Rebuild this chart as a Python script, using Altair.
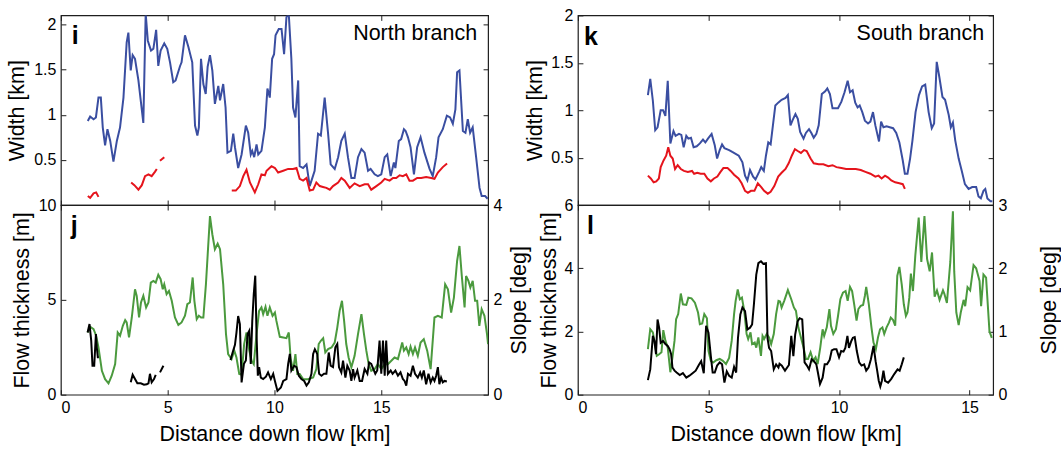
import altair as alt
import pandas as pd

# ---------------- data ----------------
# Panel i (North branch): width [km] vs distance [km]
i_blue_km = [1.26,1.37,1.53,1.64,1.76,1.87,1.96,2.07,2.18,2.31,
             2.46,2.62,2.77,2.93,3.08,3.16,3.27,3.36,3.47,3.63,
             3.86,3.97,4.07,4.22,4.33,4.46,4.56,4.67,4.84,4.98,
             5.11,5.26,5.37,5.58,5.65,5.81,5.97,6.15,6.28,6.39,
             6.46,6.56,6.67,6.78,6.87,6.98,7.09,7.21,7.37,7.45,
             7.60,7.71,7.80,7.96,8.07,8.15,8.30,8.46,8.66,8.77,
             8.89,8.96,9.05,9.16,9.24,9.39,9.55,9.67,9.78,9.89,
             9.98,10.05,10.20,10.33,10.45,10.56,10.67,10.79,10.87,10.98,
             11.11,11.18,11.34,11.50,11.65,11.88,12.04,12.17,12.35,12.51,
             12.63,12.82,12.98,13.13,13.29,13.44,13.60,13.75,13.91,14.07,
             14.22,14.38,14.50,14.69,14.84,15.0,15.16,15.28,15.44,15.59,
             15.66,15.82,15.93,16.06,16.14,16.25,16.37,16.53,16.68,16.84,
             17.02,17.26,17.41,17.57,17.68,17.88,18.07,18.22,18.35,18.47,
             18.55,18.66,18.82,18.94,19.05,19.16,19.28,19.44,19.60,19.70,
             19.86,19.98]
i_blue_w = [0.93,0.98,0.95,0.97,1.19,1.19,0.86,0.66,0.84,0.71,
            0.48,0.71,0.86,1.19,1.80,1.91,1.49,1.66,1.62,1.38,
            0.91,2.12,1.82,1.71,1.73,1.94,1.54,1.71,1.79,1.73,
            1.58,1.36,1.38,1.54,1.58,1.88,1.75,1.58,0.88,0.77,
            0.86,1.62,1.34,1.23,1.53,1.66,1.49,1.12,1.32,1.16,
            1.34,1.08,0.58,0.60,0.79,0.64,0.41,0.56,0.88,0.80,
            0.56,0.60,0.53,0.67,0.56,0.60,0.86,1.29,1.19,1.62,
            1.67,1.88,1.95,1.95,1.67,2.08,2.11,1.62,1.08,0.97,
            1.38,0.43,0.41,0.45,0.21,0.38,0.79,0.77,1.19,0.79,
            0.45,0.40,0.53,0.71,0.79,0.53,0.30,0.30,0.53,0.62,
            0.58,0.38,0.40,0.34,0.32,0.34,0.53,0.56,0.32,0.47,
            0.41,0.71,0.73,0.84,0.82,0.75,0.64,0.34,0.64,0.75,
            0.58,0.40,0.32,0.53,0.75,0.84,0.99,0.97,0.90,1.06,
            1.47,1.49,0.82,0.80,0.95,0.80,0.86,0.53,0.19,0.10,
            0.10,0.07]
i_red_km_1 = [1.26,1.37,1.53,1.65,1.76]
i_red_w_1 = [0.10,0.08,0.13,0.14,0.09]
i_red_km_2 = [3.29,3.44,3.63,3.79,3.94,4.10,4.25,4.41,4.49]
i_red_w_2 = [0.25,0.22,0.17,0.22,0.32,0.34,0.32,0.37,0.40]
i_red_km_3 = [4.64,4.84]
i_red_w_3 = [0.49,0.53]
i_red_km_4 = [8.0,8.19,8.38,8.54,8.69,8.85,9.08,9.24,9.39,9.55,
              9.63,9.86,10.02,10.17,10.41,10.64,10.87,11.03,11.18,11.34,
              11.50,11.65,11.81,11.96,12.12,12.27,12.43,12.59,12.74,12.98,
              13.13,13.29,13.52,13.75,13.99,14.22,14.38,14.53,14.77,15.0,
              15.16,15.39,15.55,15.70,15.86,16.01,16.17,16.32,16.48,16.68,
              16.87,17.10,17.34,17.49,17.65,17.88,18.08]
i_red_w_4 = [0.16,0.16,0.21,0.32,0.39,0.25,0.14,0.23,0.34,0.33,
             0.38,0.43,0.41,0.36,0.38,0.40,0.40,0.41,0.29,0.27,
             0.30,0.16,0.17,0.25,0.21,0.20,0.19,0.17,0.21,0.25,
             0.30,0.27,0.19,0.24,0.21,0.23,0.23,0.17,0.21,0.25,
             0.29,0.27,0.30,0.30,0.33,0.32,0.34,0.27,0.27,0.30,
             0.30,0.31,0.30,0.29,0.36,0.42,0.46]

# Panel j (North branch): flow thickness [m] (green) and slope [deg] (black)
j_green_km = [1.25,1.37,1.53,1.65,1.76,1.92,2.07,2.23,2.38,2.54,
              2.66,2.77,2.90,3.01,3.08,3.19,3.32,3.47,3.55,3.66,
              3.75,3.86,3.99,4.10,4.21,4.33,4.44,4.56,4.67,4.77,
              4.84,4.95,5.06,5.19,5.34,5.50,5.65,5.81,5.92,6.04,
              6.17,6.25,6.36,6.46,6.56,6.67,6.79,6.98,7.09,7.21,
              7.34,7.45,7.60,7.73,7.83,7.99,8.12,8.22,8.35,8.46,
              8.58,8.69,8.82,8.93,9.03,9.16,9.28,9.39,9.47,9.58,
              9.67,9.78,9.91,10.02,10.09,10.25,10.41,10.56,10.67,10.76,
              10.87,10.98,11.07,11.18,11.34,11.57,11.81,11.96,12.07,12.17,
              12.28,12.38,12.51,12.67,12.82,12.94,13.05,13.16,13.26,13.36,
              13.47,13.60,13.75,13.91,14.07,14.19,14.30,14.41,14.53,14.69,
              14.84,15.0,15.16,15.31,15.47,15.62,15.78,15.90,15.98,16.06,
              16.17,16.28,16.37,16.48,16.58,16.71,16.84,16.99,17.15,17.31,
              17.49,17.65,17.83,17.99,18.12,18.27,18.40,18.55,18.66,18.77,
              18.90,18.97,19.08,19.17,19.28,19.39,19.49,19.59,19.70,19.83,
              19.95,20.0]
j_green_t = [3.28,3.58,3.46,3.11,2.49,1.26,0.82,0.60,1.0,1.61,
             3.28,3.11,3.63,3.93,3.81,3.02,4.07,5.56,5.21,4.07,
             4.86,5.21,4.60,4.86,5.91,6.0,5.91,6.32,6.09,5.56,
             5.82,5.30,5.47,4.95,4.07,3.68,3.81,4.16,4.77,4.86,
             6.18,4.95,3.98,4.16,4.07,4.07,5.82,9.42,8.46,7.67,
             7.96,7.67,5.82,3.19,2.14,1.88,2.32,1.96,1.09,1.05,
             2.67,3.28,2.32,1.79,1.61,3.19,4.42,4.60,4.25,4.63,
             4.16,4.60,4.16,4.33,3.89,3.05,3.02,2.98,3.28,1.88,
             1.26,2.14,1.09,1.09,0.82,0.82,0.91,1.35,2.67,2.84,
             2.98,2.23,2.40,2.49,2.75,3.54,4.42,4.95,3.89,2.67,
             1.96,1.44,2.05,3.19,4.25,3.19,2.32,1.61,1.26,1.35,
             1.61,1.35,1.61,1.61,1.79,1.96,1.88,2.40,2.75,2.32,
             2.49,2.14,2.53,2.14,2.49,2.05,2.75,2.93,2.32,1.35,
             4.07,4.16,4.07,5.82,5.56,4.33,5.12,7.05,7.84,6.26,
             4.60,6.26,6.0,5.65,6.0,4.95,4.95,3.63,4.51,4.16,
             3.19,2.67]
j_black_km_1 = [1.25,1.34,1.42,1.48,1.56,1.64,1.68,1.73,1.78]
j_black_s_1 = [1.31,1.49,1.14,0.61,0.61,1.28,1.0,0.79,0.79]
j_black_km_2 = [3.27,3.36,3.47,3.58,3.74,3.89,4.02,4.10,4.17,4.25,4.36,4.44]
j_black_s_2 = [0.26,0.42,0.33,0.24,0.24,0.21,0.22,0.24,0.44,0.26,0.33,0.42]
j_black_km_3 = [4.64,4.80]
j_black_s_3 = [0.47,0.61]
j_black_km_4 = [7.94,8.04,8.15,8.22,8.30,8.38,8.46,8.57,8.66,8.74,
                8.82,8.89,8.96,9.03,9.10,9.16,9.22,9.28,9.36,9.47,
                9.60,9.70,9.83,9.94,10.02,10.14,10.30,10.41,10.56,10.64,
                10.72,10.79,10.92,11.03,11.14,11.26,11.39,11.50,11.61,11.73,
                11.81,11.89,12.0,12.09,12.20,12.32,12.43,12.54,12.63,12.74,
                12.85,12.94,13.02,13.13,13.21,13.32,13.41,13.52,13.60,13.68,
                13.75,13.88,13.99,14.10,14.22,14.35,14.43,14.53,14.63,14.72,
                14.81,14.92,15.0,15.08,15.16,15.23,15.31,15.44,15.53,15.66,
                15.78,15.90,16.01,16.09,16.17,16.25,16.37,16.48,16.58,16.71,
                16.82,16.90,16.99,17.10,17.21,17.31,17.41,17.49,17.57,17.65,
                17.72,17.80,17.88,17.96,18.07]
j_black_s_4 = [0.73,0.89,1.05,1.31,1.66,1.49,0.26,0.65,0.72,1.28,
               1.35,0.65,1.56,2.12,2.51,1.28,0.40,0.58,0.36,0.33,
               0.38,0.47,0.33,0.44,0.29,0.08,0.15,0.29,0.33,0.65,
               0.86,0.51,0.61,0.58,0.40,0.33,0.29,0.19,0.26,0.44,
               0.86,0.96,0.86,0.44,0.40,0.44,0.44,0.89,0.61,0.58,
               1.0,1.07,0.58,0.47,0.72,0.36,0.61,0.51,0.29,0.54,
               0.36,0.51,0.29,0.29,0.54,0.44,0.68,0.65,0.54,0.44,
               0.51,1.14,0.44,1.14,0.40,1.14,0.44,0.51,0.44,0.51,
               0.40,0.47,0.33,0.29,0.19,0.44,0.40,0.61,0.44,0.36,
               0.47,0.36,0.51,0.22,0.44,0.26,0.36,0.29,0.40,0.58,
               0.22,0.36,0.26,0.29,0.28]

# Panel k (South branch): width [km]
k_blue_km = [2.68,2.77,2.87,2.96,3.05,3.17,3.26,3.35,3.44,3.54,
             3.66,3.74,3.87,3.96,4.05,4.15,4.23,4.33,4.43,4.55,
             4.67,4.79,4.88,4.98,5.12,5.24,5.33,5.43,5.52,5.61,
             5.79,5.91,6.04,6.16,6.30,6.40,6.49,6.59,6.71,6.80,
             6.94,7.02,7.12,7.20,7.29,7.38,7.48,7.56,
             7.67,7.80,7.95,8.04,8.14,8.23,8.33,8.42,8.51,8.64,
             8.73,8.85,8.94,9.03,9.13,9.22,9.34,9.47,9.55,9.65,
             9.75,9.88,9.96,10.09,10.21,10.33,10.42,10.52,10.62,10.71,
             10.79,10.89,10.99,11.11,11.20,11.30,11.39,11.53,11.61,11.70,
             11.82,11.94,12.07,12.19,12.31,12.44,12.52,12.62,12.72,12.81,
             12.93,13.06,13.18,13.30,13.43,13.55,13.64,
             13.74,13.84,13.96,14.06,14.20,14.28,14.36,14.45,14.58,14.70,
             14.82,14.96,15.10,15.25,15.34,15.43,15.53,15.60,15.68,15.80,
             15.87]
k_blue_w = [1.16,1.33,1.10,0.79,0.82,1.0,1.0,0.94,1.31,0.65,
            0.78,0.73,0.75,0.74,0.61,0.73,0.70,0.71,0.61,0.62,
            0.65,0.69,0.66,0.70,0.75,0.63,0.49,0.58,0.64,0.60,
            0.58,0.56,0.54,0.52,0.45,0.31,0.26,0.37,0.30,0.27,
            0.35,0.40,0.36,0.52,0.66,0.64,0.87,1.05,
            1.08,1.11,1.13,1.16,0.84,0.90,0.96,0.91,0.77,0.70,
            0.76,0.80,0.76,0.71,0.75,0.84,1.17,1.20,1.23,1.17,
            1.02,1.02,1.02,1.09,1.19,1.31,1.19,1.21,1.08,1.03,
            1.05,0.98,0.89,0.86,0.88,0.98,0.84,0.67,0.88,0.82,
            0.83,0.82,0.81,0.76,0.66,0.47,0.33,0.33,0.49,0.68,
            0.98,1.16,1.25,1.27,0.98,0.81,0.86,
            1.51,1.35,1.14,1.11,0.95,0.82,0.87,0.68,0.49,0.36,
            0.22,0.17,0.19,0.19,0.09,0.07,0.15,0.17,0.07,0.04,
            0.04]
k_red_km = [2.68,2.79,2.90,3.0,3.10,3.17,3.28,3.38,3.46,3.54,
            3.63,3.72,3.82,3.94,4.06,4.21,4.37,4.45,4.57,4.70,
            4.84,4.96,5.09,5.21,5.34,5.46,5.57,5.73,5.85,5.98,
            6.15,6.27,6.40,6.51,6.63,6.76,6.89,7.02,7.13,7.27,
            7.38,7.52,
            7.67,7.80,7.95,8.07,8.19,8.31,8.42,8.54,8.66,8.76,
            8.91,9.03,9.22,9.40,9.59,9.75,9.90,10.09,10.27,10.46,
            10.64,10.83,11.01,11.20,11.39,11.51,11.63,11.76,11.88,12.0,
            12.15,12.31,12.44,12.52]
k_red_w = [0.31,0.28,0.24,0.25,0.28,0.40,0.47,0.52,0.61,0.52,
           0.49,0.38,0.42,0.38,0.36,0.35,0.36,0.33,0.34,0.33,
           0.33,0.28,0.25,0.28,0.30,0.35,0.39,0.39,0.36,0.32,
           0.28,0.23,0.15,0.13,0.15,0.15,0.23,0.19,0.15,0.12,
           0.14,0.20,
           0.30,0.34,0.38,0.44,0.52,0.59,0.57,0.55,0.58,0.57,
           0.49,0.44,0.43,0.43,0.41,0.42,0.40,0.39,0.38,0.38,
           0.38,0.37,0.35,0.33,0.30,0.31,0.28,0.31,0.29,0.26,
           0.24,0.23,0.22,0.17]

# Panel l (South branch): flow thickness [m] (green) and slope [deg] (black)
l_green_km = [2.68,2.77,2.87,2.96,3.02,3.11,3.20,3.27,3.35,3.44,
              3.54,3.62,3.70,3.76,3.84,3.94,4.02,4.15,4.23,4.35,
              4.48,4.60,4.67,4.76,4.84,4.94,5.0,5.09,5.18,5.30,
              5.43,5.55,5.67,5.79,5.89,5.98,6.04,6.12,6.20,6.28,
              6.37,6.46,6.52,6.61,6.67,6.77,6.83,6.91,7.01,7.07,
              7.13,7.23,7.32,7.40,7.50,7.59,7.68,
              7.74,7.80,7.90,8.04,8.17,8.27,8.35,8.44,8.54,8.64,
              8.73,8.81,8.91,9.01,9.10,9.18,9.28,9.37,9.43,9.53,
              9.63,9.69,9.78,9.88,9.96,10.05,10.15,10.25,10.33,10.42,
              10.50,10.58,10.67,10.74,10.83,10.92,10.99,11.04,11.14,11.24,
              11.32,11.41,11.49,11.57,11.66,11.73,11.82,11.91,11.98,12.07,
              12.15,12.23,12.31,12.40,12.48,12.56,12.62,12.69,12.75,12.83,
              12.92,13.05,13.15,13.27,13.37,13.47,13.56,13.66,13.75,13.85,
              13.98,14.03,14.13,14.26,14.36,14.41,14.49,14.58,14.66,14.77,
              14.83,14.92,15.02,15.15,15.25,15.38,15.44,15.53,15.63,15.76,
              15.85]
l_green_t = [1.44,2.07,1.97,1.55,1.23,1.28,1.34,2.04,1.71,1.49,
             0.71,1.18,1.71,2.39,2.55,3.20,2.86,2.84,3.07,3.05,
             2.91,2.60,2.23,2.25,2.55,2.42,1.39,1.07,1.02,1.09,
             1.13,1.07,0.97,1.16,1.71,2.55,2.97,3.33,3.02,3.07,
             2.65,1.92,1.76,1.97,1.60,1.65,1.49,1.81,1.23,1.86,
             1.76,1.92,1.81,1.60,1.92,2.55,2.97,
             2.95,2.76,2.97,3.31,3.02,2.76,2.65,2.13,1.81,1.49,
             1.13,1.13,1.34,1.07,1.18,0.97,1.49,2.07,1.86,2.13,
             2.71,2.18,1.92,2.07,2.49,3.02,3.23,3.28,2.97,3.41,
             3.28,2.86,2.34,2.71,2.81,2.84,3.13,3.41,2.86,2.13,
             1.65,1.44,1.81,2.07,2.13,1.92,2.13,2.28,2.44,2.36,
             2.18,3.76,4.04,3.49,2.86,2.49,2.60,3.07,3.83,3.28,
             4.4,5.6,4.2,5.65,4.3,3.9,4.5,3.1,3.3,3.0,
             3.3,3.2,2.9,4.2,5.8,3.9,2.6,2.2,2.6,3.0,
             2.8,3.4,3.3,4.1,4.0,3.6,2.8,3.8,3.7,2.0,
             1.8]
l_black_km = [2.68,2.77,2.87,2.93,2.99,3.05,3.11,3.17,3.26,3.35,
              3.44,3.51,3.57,3.62,3.70,3.78,3.90,4.02,4.15,4.27,
              4.39,4.51,4.63,4.72,4.82,4.91,5.0,5.09,5.16,5.24,
              5.33,5.43,5.52,5.61,5.70,5.79,5.89,5.98,6.06,6.13,
              6.22,6.30,6.40,6.49,6.59,6.67,6.74,6.83,6.91,7.01,
              7.10,7.20,7.26,7.32,7.40,7.50,7.59,7.68,
              7.72,7.81,7.93,8.08,8.17,8.25,8.32,8.41,8.49,8.59,
              8.65,8.68,8.77,8.85,8.95,9.04,9.13,9.19,9.27,9.37,
              9.45,9.54,9.64,9.72,9.81,9.90,10.0,10.08,10.17,10.24,
              10.32,10.38,10.47,10.53,10.60,10.68,10.77,10.86,10.96,11.04,
              11.13,11.22,11.32,11.40,11.46,11.52,11.58,11.64,11.70,11.76,
              11.88,12.0,12.12,12.24,12.32,12.40,12.48]
l_black_s = [0.23,0.40,0.93,0.85,0.64,1.19,1.06,0.82,0.85,0.80,
             0.77,0.72,0.64,0.43,0.38,0.35,0.31,0.34,0.27,0.30,
             0.34,0.38,0.47,0.53,0.34,1.09,0.98,0.61,0.35,0.35,
             0.46,0.51,0.48,0.19,0.37,0.30,0.27,0.44,0.35,0.90,
             1.27,1.38,1.32,1.03,1.06,1.11,1.43,1.90,2.08,2.11,
             2.07,2.08,0.90,0.74,0.69,0.40,0.48,0.43,
             0.49,0.46,0.38,0.47,0.93,0.61,0.95,1.16,1.21,1.19,
             0.74,0.51,0.46,0.40,0.56,0.53,0.48,0.35,0.17,0.27,
             0.48,0.48,0.55,0.70,0.72,0.72,0.59,0.69,0.68,0.74,
             0.93,0.74,0.85,0.90,0.91,0.69,0.51,0.46,0.48,0.38,
             0.43,0.56,0.77,0.53,0.38,0.22,0.13,0.22,0.38,0.22,
             0.19,0.25,0.33,0.40,0.38,0.48,0.59]

# axis ticks / labels
x_ticks = [0, 5, 10, 15]
width_ticks = [0.5, 1, 1.5, 2]
j_thick_ticks = [0, 5, 10]
j_slope_ticks = [0, 2, 4]
l_thick_ticks = [0, 2, 4, 6]
l_slope_ticks = [0, 1, 2, 3]

# ---------------- style ----------------
FONT = "Liberation Sans"
BLUE = "#3a4ea1"
RED = "#e5141c"
GREEN = "#4b9a3e"
INK = "#1e1e1e"
WL, WR, H = 428, 416, 190
LBL, TTL = 16, 21.5


def frame(*segments):
    parts = [pd.DataFrame({"km": xs, "v": ys, "seg": n}) for n, (xs, ys) in enumerate(segments)]
    return pd.concat(parts, ignore_index=True)


def axis(orient, values, labels=False, title=None, tx=None):
    kw = dict(orient=orient, values=values, offset=-5, tickSize=5, tickWidth=1,
              tickColor=INK, domain=False, grid=False, labels=labels, format="~r",
              labelFont=FONT, labelFontSize=LBL, labelColor="black", labelPadding=5)
    if title:
        kw.update(title=title, titleFont=FONT, titleFontSize=TTL, titleFontWeight="normal",
                  titleColor="black", titleBaseline="alphabetic")
        if orient in ("left", "right"):
            kw.update(titleX=tx, titleAngle=270)
        else:
            kw.update(titleY=tx)
    else:
        kw["title"] = None
    return alt.Axis(**kw)


def lines(df, xdom, ydom, color, xaxis, yaxis):
    return alt.Chart(df).mark_line(color=color, strokeWidth=2, clip=True).encode(
        x=alt.X("km:Q", scale=alt.Scale(domain=xdom, nice=False, zero=False), axis=xaxis),
        y=alt.Y("v:Q", scale=alt.Scale(domain=ydom, nice=False, zero=False), axis=yaxis),
        detail="seg:N",
    )


def label(text, x, y, bold=True, align="left", size=25):
    return alt.Chart(pd.DataFrame({"t": [text]})).mark_text(
        align=align, baseline="alphabetic", font=FONT, fontSize=size,
        fontWeight="bold" if bold else "normal", color="black",
    ).encode(x=alt.value(x), y=alt.value(y), text="t:N")


XL = [0, 20]
XR = [0, 15.9]

# panel i
p_i = alt.layer(
    lines(frame((i_blue_km, i_blue_w)), XL, [0, 2.1], BLUE,
          axis("bottom", x_ticks), axis("left", width_ticks, True, "Width [km]", -42)),
    lines(frame((i_red_km_1, i_red_w_1), (i_red_km_2, i_red_w_2), (i_red_km_3, i_red_w_3),
                (i_red_km_4, i_red_w_4)), XL, [0, 2.1], RED,
          axis("top", x_ticks), axis("right", width_ticks)),
    label("i", 11, 29),
    label("North branch", WL - 11, 25, bold=False, align="right", size=TTL),
).resolve_axis(x="independent", y="independent").properties(width=WL, height=H)

# panel j
p_j = alt.layer(
    alt.layer(
        lines(frame((j_green_km, j_green_t)), XL, [0, 10], GREEN,
              axis("bottom", x_ticks, True, "Distance down flow [km]", 51),
              axis("left", j_thick_ticks, True, "Flow thickness [m]", -37)),
        label("j", 10, 29),
    ),
    lines(frame((j_black_km_1, j_black_s_1), (j_black_km_2, j_black_s_2),
                (j_black_km_3, j_black_s_3), (j_black_km_4, j_black_s_4)), XL, [0, 4], "black",
          axis("top", x_ticks), axis("right", j_slope_ticks, True, "Slope [deg]", 42)),
).resolve_scale(y="independent").resolve_axis(x="independent", y="independent").properties(width=WL, height=H)

# panel k
p_k = alt.layer(
    lines(frame((k_blue_km, k_blue_w)), XR, [0, 2], BLUE,
          axis("bottom", x_ticks), axis("left", width_ticks, True, "Width [km]", -41)),
    lines(frame((k_red_km, k_red_w)), XR, [0, 2], RED,
          axis("top", x_ticks), axis("right", width_ticks)),
    label("k", 6, 30),
    label("South branch", WR - 9, 25, bold=False, align="right", size=TTL),
).resolve_axis(x="independent", y="independent").properties(width=WR, height=H)

# panel l
p_l = alt.layer(
    alt.layer(
        lines(frame((l_green_km, l_green_t)), XR, [0, 6], GREEN,
              axis("bottom", x_ticks, True, "Distance down flow [km]", 51),
              axis("left", l_thick_ticks, True, "Flow thickness [m]", -27)),
        label("l", 9, 29),
    ),
    lines(frame((l_black_km, l_black_s)), XR, [0, 3], "black",
          axis("top", x_ticks), axis("right", l_slope_ticks, True, "Slope [deg]", 67)),
).resolve_scale(y="independent").resolve_axis(x="independent", y="independent").properties(width=WR, height=H)

chart = alt.concat(
    p_i, p_k, p_j, p_l, columns=2, spacing={"row": 0, "column": 90}, bounds="flush",
).properties(
    padding={"left": 6, "top": 6, "right": 0, "bottom": 4},
    background="white",
).configure_view(stroke=INK, strokeWidth=1.2)

chart.save("out.html", embed_options={"renderer": "svg", "actions": False})
